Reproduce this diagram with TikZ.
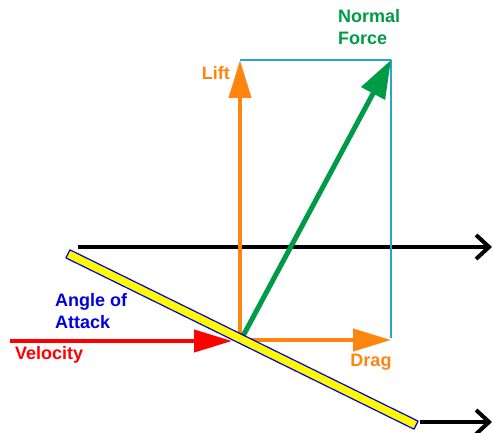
\documentclass[tikz,border=0pt]{standalone}
\usepackage{fontspec}
\setmainfont{Liberation Sans}
\usetikzlibrary{arrows.meta}
\definecolor{forceorange}{RGB}{255,133,17}
\definecolor{normalgreen}{RGB}{0,155,70}
\definecolor{boxcyan}{RGB}{40,165,205}
\definecolor{aoablue}{RGB}{0,0,225}
\definecolor{platefill}{RGB}{255,250,0}
\begin{document}
\begin{tikzpicture}[line join=round,x=1pt,y=-1pt,
  lbl/.style={font=\fontsize{18}{22}\selectfont\bfseries,inner sep=0pt,align=left},
  force/.style={forceorange,line width=4pt,-{Triangle[length=38pt,width=22pt]}},
  flow/.style={black,line width=4pt,-{Straight Barb[length=13pt,width=24pt,line width=4pt]}}]
\useasboundingbox (0,0) rectangle (493,433);
% points of the force picture
\coordinate (origin) at (240,338);
\coordinate (dragstart) at (240,340);
\coordinate (lifttip) at (240,60);
\coordinate (dragtip) at (391,340);
\coordinate (normtip) at (391,60);
\coordinate (boxcorner) at (391,338);
\coordinate (normstart) at (243,336);
\coordinate (velstart) at (10,341);
\coordinate (veltip) at (232,341);
\coordinate (flowstart) at (78,247);
\coordinate (flowend) at (492,247);
\coordinate (wakestart) at (420,422);
\coordinate (wakeend) at (492,422);
% free stream
\draw [flow] (flowstart) -- (flowend);
\draw [flow] (wakestart) -- (wakeend);
% box of the components
\draw [boxcyan,line width=1.5pt] (lifttip) -- (normtip) -- (boxcorner);
% lift and drag
\draw [force] (origin) -- (lifttip);
\draw [force] (dragstart) -- (dragtip);
% resultant
\draw [normalgreen,line width=5pt,-{Triangle[length=38pt,width=26pt]}] (normstart) -- (normtip);
% velocity
\draw [red,line width=4pt,-{Triangle[length=38pt,width=22pt]}] (velstart) -- (veltip);
% the plate
\node [draw=aoablue,fill=platefill,line width=1.2pt,rotate=-26.2,minimum width=388pt,minimum height=9pt,inner sep=0pt] (plate) at (242,339.5) {};
% labels
\node [lbl,text=normalgreen,anchor=north west] (normlbl) at (338,9) {Normal\\Force};
\node [lbl,text=forceorange,anchor=east] (liftlbl) at (230,73) {Lift};
\node [lbl,text=forceorange] (draglbl) at (371,362) {Drag};
\node [lbl,text=aoablue,anchor=north west] (aoalbl) at (55,293) {Angle of\\Attack};
\node [lbl,text=red,anchor=west] (vellbl) at (15,355) {Velocity};
\end{tikzpicture}
\end{document}
